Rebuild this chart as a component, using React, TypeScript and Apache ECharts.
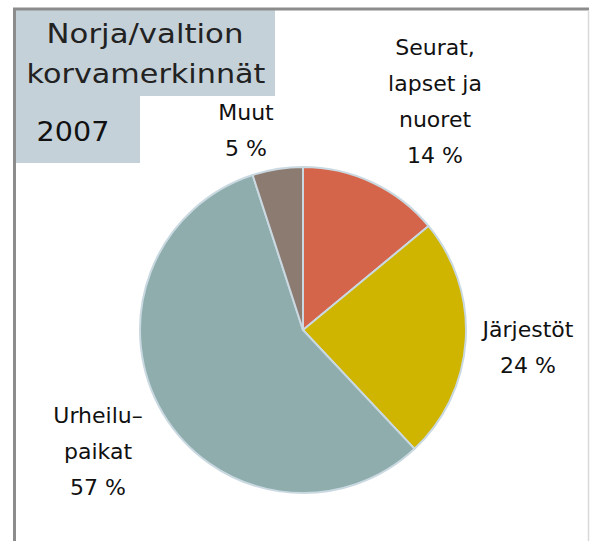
import React, { useEffect, useRef } from "react";
import * as echarts from "echarts";

const categories = ["Seurat,\nlapset ja\nnuoret", "Järjestöt", "Urheilu–\npaikat", "Muut"];
const values = [14, 24, 57, 5];
const colors = ["#d4654a", "#cfb400", "#8eadac", "#8c7b71"];
const titleLines = ["Norja/valtion", "korvamerkinnät"];
const yearLabel = "2007";

// label anchor centers (px) for each slice, in chart coordinates
const labelPos: Record<string, [number, number]> = {
  [categories[0]]: [435, 101],
  [categories[1]]: [528, 347],
  [categories[2]]: [98, 451],
  [categories[3]]: [246, 130],
};

export default function App() {
  const ref = useRef<HTMLDivElement>(null);
  useEffect(() => {
    if (!ref.current) return;
    const chart = echarts.init(ref.current, null, { renderer: "svg" });
    chart.setOption({
      animation: false,
      backgroundColor: "#ffffff",
      graphic: [
        { type: "rect", shape: { x: 16, y: 10, width: 259, height: 86 }, style: { fill: "#c5d1d8" } },
        { type: "rect", shape: { x: 16, y: 95, width: 124, height: 68 }, style: { fill: "#c5d1d8" } },
        { type: "line", shape: { x1: 14.5, y1: 8, x2: 14.5, y2: 541 }, style: { stroke: "#8c8c8c", lineWidth: 3 } },
        { type: "line", shape: { x1: 13, y1: 9, x2: 589, y2: 9 }, style: { stroke: "#8c8c8c", lineWidth: 3 } },
        { type: "line", shape: { x1: 588.5, y1: 10, x2: 588.5, y2: 541 }, style: { stroke: "#d9d9d9", lineWidth: 1.5 } },
        {
          type: "text", x: 145, y: 34, scaleX: 1.14,
          style: { text: titleLines[0], font: "27px 'DejaVu Sans'", fill: "#222222", align: "center", verticalAlign: "middle" },
        },
        {
          type: "text", x: 146, y: 74, scaleX: 1.12,
          style: { text: titleLines[1], font: "27px 'DejaVu Sans'", fill: "#222222", align: "center", verticalAlign: "middle" },
        },
        {
          type: "text", x: 73, y: 132, scaleX: 1.1,
          style: { text: yearLabel, font: "26px 'DejaVu Sans'", fill: "#111111", align: "center", verticalAlign: "middle" },
        },
      ],
      series: [
        {
          type: "pie",
          center: [303, 330],
          radius: 163,
          startAngle: 90,
          clockwise: true,
          data: categories.map((name, i) => ({ name, value: values[i], itemStyle: { color: colors[i] } })),
          itemStyle: { borderColor: "#cad9e1", borderWidth: 2 },
          label: {
            show: true,
            position: "outside",
            formatter: (p: any) => `${p.name}\n${p.value} %`,
            fontFamily: "DejaVu Sans",
            fontSize: 22,
            lineHeight: 36,
            color: "#111111",
            align: "center",
            overflow: "none",
            width: 200,
          },
          labelLine: { show: false },
          labelLayout: (params: any) => {
            const idx = params.dataIndex;
            const p = labelPos[categories[idx]];
            return { x: p[0], y: p[1], align: "center", verticalAlign: "middle" };
          },
          emphasis: { disabled: true },
        },
      ],
    });
    return () => chart.dispose();
  }, []);
  return <div ref={ref} style={{ position: "fixed", left: 0, top: 0, width: 590, height: 541 }} />;
}
